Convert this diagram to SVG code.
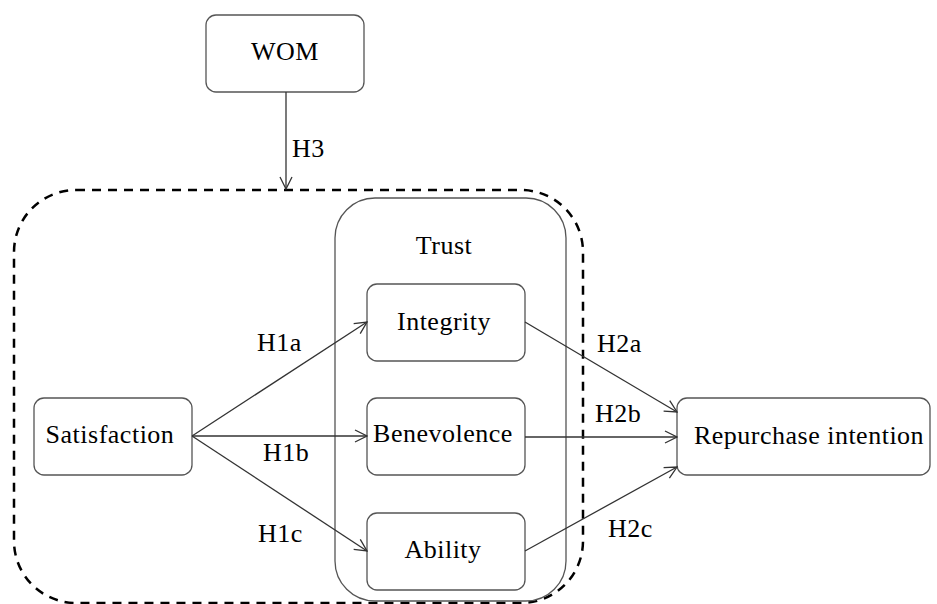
<svg xmlns="http://www.w3.org/2000/svg" width="937" height="604" viewBox="0 0 937 604">
<defs>
<marker id="arr" viewBox="0 0 14 14" refX="13" refY="7" markerWidth="14" markerHeight="14" markerUnits="userSpaceOnUse" orient="auto">
<path d="M1,1 L13,7 L1,13" fill="none" stroke="#333" stroke-width="1.3"/>
</marker>
<style>
.box{fill:#fff;stroke:#555;stroke-width:1.3}
.t{font-family:"Liberation Serif","Times New Roman",serif;font-size:26px;fill:#000;letter-spacing:0.5px}
.c{text-anchor:middle}
.e{fill:none;stroke:#333;stroke-width:1.3}
</style>
</defs>
<rect width="937" height="604" fill="#fff"/>
<g id="outer">
<rect x="14" y="190" width="569" height="413" rx="62" ry="62" fill="none" stroke="#000" stroke-width="2.5" stroke-dasharray="9,7"/>
</g>
<g id="trust">
<rect x="335" y="198" width="231" height="403" rx="40" ry="40" fill="none" stroke="#555" stroke-width="1.3"/>
<text class="t c" x="444" y="254">Trust</text>
</g>
<g id="wom">
<rect class="box" x="206" y="15" width="158" height="77" rx="10"/>
<text class="t c" x="285" y="60">WOM</text>
</g>
<g id="satisfaction">
<rect class="box" x="34" y="398" width="158" height="77" rx="10"/>
<text class="t c" x="110" y="443">Satisfaction</text>
</g>
<g id="integrity">
<rect class="box" x="367" y="284" width="158" height="77" rx="10"/>
<text class="t c" x="444" y="330">Integrity</text>
</g>
<g id="benevolence">
<rect class="box" x="367" y="398" width="158" height="77" rx="10"/>
<text class="t c" x="443" y="442">Benevolence</text>
</g>
<g id="ability">
<rect class="box" x="367" y="513" width="158" height="77" rx="10"/>
<text class="t c" x="443" y="558">Ability</text>
</g>
<g id="repurchase">
<rect class="box" x="677" y="398" width="253" height="77" rx="10"/>
<text class="t c" x="809" y="444">Repurchase intention</text>
</g>
<g id="connectors">
<line class="e" x1="286" y1="92" x2="286" y2="189" marker-end="url(#arr)"/>
<line class="e" x1="192" y1="436" x2="367" y2="322" marker-end="url(#arr)"/>
<line class="e" x1="192" y1="436" x2="367" y2="436" marker-end="url(#arr)"/>
<line class="e" x1="192" y1="436" x2="367" y2="551" marker-end="url(#arr)"/>
<line class="e" x1="525" y1="322" x2="677" y2="412" marker-end="url(#arr)"/>
<line class="e" x1="525" y1="437" x2="677" y2="437" marker-end="url(#arr)"/>
<line class="e" x1="525" y1="551" x2="677" y2="467" marker-end="url(#arr)"/>
<text class="t" x="292" y="157">H3</text>
<text class="t" x="257" y="351">H1a</text>
<text class="t" x="263" y="461">H1b</text>
<text class="t" x="258" y="542">H1c</text>
<text class="t" x="597" y="352">H2a</text>
<text class="t" x="595" y="422">H2b</text>
<text class="t" x="608" y="537">H2c</text>
</g>
</svg>
